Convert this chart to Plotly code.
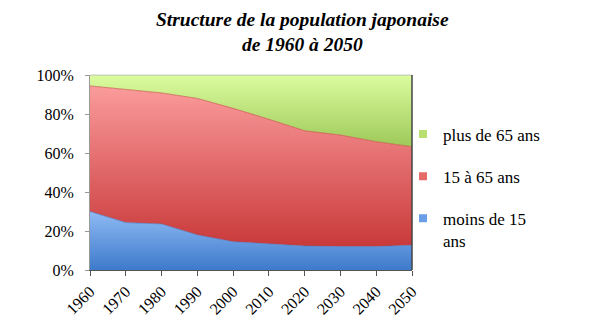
import plotly.graph_objects as go

# Japanese population structure, share of each age group (%)
years = [1960, 1970, 1980, 1990, 2000, 2010, 2020, 2030, 2040, 2050]
moins_15 = [30.0, 24.3, 23.6, 18.0, 14.5, 13.3, 12.3, 12.0, 12.0, 12.7]
de_15_a_65 = [64.4, 68.3, 67.2, 70.0, 68.4, 64.0, 59.1, 57.2, 53.8, 50.5]
plus_65 = [5.6, 7.4, 9.2, 12.0, 17.1, 22.7, 28.6, 30.8, 34.2, 36.8]
y_ticks = [0, 20, 40, 60, 80, 100]

SERIF = "Liberation Serif"

# name, values, swatch colour, dark (bottom) / light (top) gradient, gradient span
series = [
    ("moins de 15<br>ans", moins_15, "#6a9ee6", "#3d7acb", "#8fbaf4", 0, 30),
    ("15 à 65 ans", de_15_a_65, "#e66a68", "#c9393a", "#fb9c9c", 12, 95),
    ("plus de 65 ans", plus_65, "#b8e070", "#98c552", "#dcfca0", 60, 100),
]

fig = go.Figure()

# stacked areas
for name, vals, swatch, dark, light, lo, hi in series:
    fig.add_trace(go.Scatter(
        x=years, y=vals, name=name, mode="lines",
        stackgroup="age", line=dict(width=0.6, color=dark),
        fillcolor=swatch,
        fillgradient=dict(type="vertical", start=lo, stop=hi,
                          colorscale=[[0, dark], [1, light]]),
        showlegend=False,
        hoverinfo="x+y+name",
    ))

# legend entries with small square swatches, oldest group first
for name, vals, swatch, dark, light, lo, hi in reversed(series):
    fig.add_trace(go.Scatter(
        x=[None], y=[None], name=name, mode="markers",
        marker=dict(symbol="square", size=8, color=swatch,
                    line=dict(width=0)),
        legendgroup=name, showlegend=True,
    ))

fig.update_layout(
    width=600, height=323,
    margin=dict(l=90, r=188, t=75, b=53),
    paper_bgcolor="white", plot_bgcolor="white",
    xaxis=dict(
        range=[1960, 2050], tickvals=years, ticktext=[str(y) for y in years],
        tickangle=-45, ticks="outside", ticklen=5, tickcolor="#555",
        showline=True, linecolor="#555", linewidth=1.2, mirror=False,
        showgrid=False, zeroline=False, automargin=False,
        tickfont=dict(family=SERIF, size=16, color="black"),
    ),
    yaxis=dict(
        range=[0, 100], tickvals=y_ticks, ticktext=[f"{v}%" for v in y_ticks],
        ticks="outside", ticklen=4, tickcolor="#999",
        showline=True, linecolor="#999", linewidth=1,
        showgrid=False, zeroline=False, ticklabelstandoff=8,
        automargin=False,
        tickfont=dict(family=SERIF, size=16, color="black"),
    ),
    legend=dict(
        x=(412 - 9 - 90) / 322, xanchor="left",
        y=(270 - 116.5) / 195, yanchor="top",
        traceorder="grouped", tracegroupgap=17, valign="top",
        bgcolor="rgba(0,0,0,0)",
        font=dict(family=SERIF, size=17, color="black"),
        itemwidth=30,
    ),
    annotations=[dict(
        text="Structure de la population japonaise<br>de 1960 à 2050",
        xref="paper", yref="paper", x=(302 - 90) / 322, y=(270 - 7) / 195,
        xanchor="center", yanchor="top", showarrow=False,
        font=dict(family=SERIF, size=19.5, color="black", weight="bold",
                  style="italic"),
    )],
    shapes=[
        dict(type="line", xref="paper", yref="paper", x0=0, x1=1, y0=1, y1=1,
             line=dict(color="#cccccc", width=1)),
        dict(type="line", xref="paper", yref="paper", x0=1, x1=1, y0=0, y1=1,
             line=dict(color="#444444", width=1.5)),
    ],
)

fig.write_html("out.html")
